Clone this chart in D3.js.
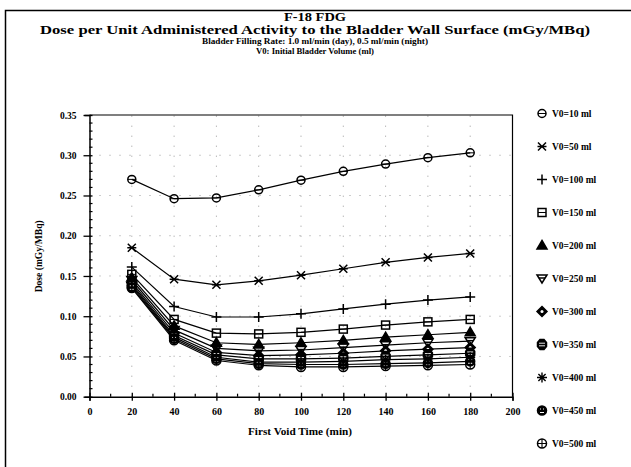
<!DOCTYPE html>
<html><head><meta charset="utf-8">
<script src="https://cdn.jsdelivr.net/npm/d3@7"></script>
<style>body{margin:0;background:#fff}svg{display:block}text{font-family:"Liberation Serif","DejaVu Serif",serif;font-weight:bold;fill:#000}</style>
</head><body><svg id="c" width="631" height="467"></svg>
<script>
const times = [20, 40, 60, 80, 100, 120, 140, 160, 180];
const seriesNames = ["V0=10 ml","V0=50 ml","V0=100 ml","V0=150 ml","V0=200 ml","V0=250 ml","V0=300 ml","V0=350 ml","V0=400 ml","V0=450 ml","V0=500 ml"];
const v10  = [0.270,0.246,0.247,0.257,0.269,0.280,0.289,0.297,0.303];
const v50  = [0.185,0.146,0.139,0.144,0.151,0.159,0.167,0.173,0.178];
const v100 = [0.161,0.112,0.099,0.099,0.103,0.109,0.115,0.120,0.124];
const v150 = [0.152,0.096,0.079,0.078,0.080,0.084,0.089,0.093,0.096];
const v200 = [0.148,0.088,0.067,0.065,0.067,0.070,0.074,0.077,0.080];
const v250 = [0.145,0.083,0.060,0.057,0.058,0.061,0.064,0.067,0.069];
const v300 = [0.142,0.079,0.055,0.051,0.052,0.054,0.057,0.059,0.061];
const v350 = [0.140,0.076,0.052,0.047,0.047,0.048,0.050,0.052,0.054];
const v400 = [0.138,0.074,0.049,0.043,0.043,0.044,0.046,0.047,0.049];
const v450 = [0.136,0.072,0.047,0.041,0.040,0.040,0.041,0.042,0.044];
const v500 = [0.135,0.070,0.045,0.039,0.037,0.037,0.038,0.039,0.040];
const xTicks = [0,20,40,60,80,100,120,140,160,180,200];
const yTicks = [0,0.05,0.10,0.15,0.20,0.25,0.30,0.35];
const titleLines = ["F-18 FDG","Dose per Unit Administered Activity to the Bladder Wall Surface (mGy/MBq)","Bladder Filling Rate: 1.0 ml/min (day), 0.5 ml/min (night)","V0: Initial Bladder Volume (ml)"];

const allSeries = [v10,v50,v100,v150,v200,v250,v300,v350,v400,v450,v500];
const svg = d3.select("#c");
// outer frame
svg.append("path").attr("d","M5.5,480 L5.5,10.5 L640,10.5").attr("fill","none").attr("stroke","#000").attr("stroke-width",1.5);

// titles
svg.append("text").attr("x",315).attr("y",21).attr("text-anchor","middle").attr("font-size",13)
  .attr("textLength",62).attr("lengthAdjust","spacingAndGlyphs").text(titleLines[0]);
svg.append("text").attr("x",315).attr("y",34).attr("text-anchor","middle").attr("font-size",12.5)
  .attr("textLength",550).attr("lengthAdjust","spacingAndGlyphs").text(titleLines[1]);
svg.append("text").attr("x",315).attr("y",44).attr("text-anchor","middle").attr("font-size",9)
  .attr("textLength",226).attr("lengthAdjust","spacingAndGlyphs").text(titleLines[2]);
svg.append("text").attr("x",315).attr("y",53.5).attr("text-anchor","middle").attr("font-size",9)
  .attr("textLength",118).attr("lengthAdjust","spacingAndGlyphs").text(titleLines[3]);

const L=89.5, R=512.5, T=115, B=396.7;
const x = d3.scaleLinear().domain([0,200]).range([L,R]);
const y = d3.scaleLinear().domain([0,0.35]).range([B,T]);

// grid dotted
const grid = svg.append("g").attr("stroke","#999").attr("stroke-width",1).attr("stroke-dasharray","1,9");
xTicks.slice(1,-1).forEach(t=>grid.append("line").attr("x1",x(t)).attr("x2",x(t)).attr("y1",B).attr("y2",T));
yTicks.slice(1,-1).forEach(t=>grid.append("line").attr("x1",L).attr("x2",R).attr("y1",y(t)).attr("y2",y(t)));

// frame top & right
svg.append("path").attr("d",`M${L},${T} L${R},${T} L${R},${B}`).attr("fill","none").attr("stroke","#000").attr("stroke-width",1.2);

// axes
const xAxis = d3.axisBottom(x).tickValues(xTicks).tickSize(4).tickFormat(d3.format("d"));
const gx = svg.append("g").attr("transform",`translate(0,${B})`).call(xAxis);
gx.select(".domain").attr("stroke-width",1.5);
gx.selectAll(".tick line").attr("y1",-4).attr("stroke-width",1.3);
gx.selectAll(".tick text").attr("font-size",10).attr("font-family","Liberation Serif").attr("font-weight","bold").attr("y",11).attr("dy","0.71em");
const xMinor = d3.range(10,200,20);
gx.selectAll(".minor").data(xMinor).enter().append("line").attr("x1",d=>x(d)).attr("x2",d=>x(d)).attr("y1",0).attr("y2",-3).attr("stroke","#000").attr("stroke-width",1.2);

const yAxis = d3.axisLeft(y).tickValues(yTicks).tickSize(5).tickFormat(d3.format(".2f"));
const gy = svg.append("g").attr("transform",`translate(${L},0)`).call(yAxis);
gy.select(".domain").attr("stroke-width",1.5);
gy.selectAll(".tick line").attr("x2",-6).attr("x1",3).attr("stroke-width",1.3);
gy.selectAll(".tick text").attr("font-size",9.5).attr("font-family","Liberation Serif").attr("font-weight","bold").attr("x",-13);
const yMinor = d3.range(0.01,0.35,0.01).filter(v=>Math.abs(v/0.05-Math.round(v/0.05))>0.01);
gy.selectAll(".minor").data(yMinor).enter().append("line").attr("x1",0).attr("x2",3).attr("y1",d=>y(d)).attr("y2",d=>y(d)).attr("stroke","#000").attr("stroke-width",1.2);

svg.append("text").attr("transform",`translate(42,${(T+B)/2+0.5}) rotate(-90)`).attr("text-anchor","middle").attr("font-size",9.5)
  .attr("textLength",72).attr("lengthAdjust","spacingAndGlyphs").text("Dose (mGy/MBq)");
svg.append("text").attr("x",300).attr("y",435).attr("text-anchor","middle").attr("font-size",10)
  .attr("textLength",104).attr("lengthAdjust","spacingAndGlyphs").text("First Void Time (min)");

// marker drawers
function marker(g,i){
  const s=g.append("g").attr("stroke","#000").attr("stroke-width",1.5).attr("fill","none");
  switch(i){
    case 0: s.append("circle").attr("r",4); s.append("line").attr("x1",-4).attr("x2",4).attr("stroke-width",1); break;
    case 1: s.append("path").attr("d","M-4,-4L4,4M-4,4L4,-4M-4.5,0L4.5,0"); break;
    case 2: s.append("path").attr("d","M-5,0L5,0M0,-5L0,5"); break;
    case 3: s.append("rect").attr("x",-4).attr("y",-4).attr("width",8).attr("height",8); s.append("line").attr("x1",-4).attr("x2",4).attr("stroke-width",1); break;
    case 4: s.append("path").attr("d","M0,-5L5,3.5L-5,3.5Z").attr("fill","#000"); break;
    case 5: s.append("path").attr("d","M-5,-3.5L5,-3.5L0,4.5Z"); s.append("line").attr("x1",-3).attr("x2",3).attr("y1",-0.5).attr("y2",-0.5); break;
    case 6: s.append("path").attr("d","M0,-5L5,0L0,5L-5,0Z").attr("fill","#000"); s.append("circle").attr("r",1.5).attr("fill","#fff").attr("stroke","none"); break;
    case 7: s.append("path").attr("d","M-2,-5L2,-5L4.5,-2L4.5,2L2,5L-2,5L-4.5,2L-4.5,-2Z").attr("fill","#000");
            s.append("path").attr("d","M-3,-1.3L3,-1.3M-3,1.3L3,1.3").attr("stroke","#fff").attr("stroke-width",0.9); break;
    case 8: s.append("path").attr("d","M-5,0L5,0M0,-5L0,5M-3.6,-3.6L3.6,3.6M-3.6,3.6L3.6,-3.6").attr("stroke-width",1.4); break;
    case 9: s.append("circle").attr("r",4.5).attr("fill","#000");
            s.append("path").attr("d","M-2,-1.5L-1,-1.5M1,-1.5L2,-1.5M-2,2L2,2").attr("stroke","#fff").attr("stroke-width",1); break;
    case 10: s.append("circle").attr("r",4.5); s.append("path").attr("d","M-4.5,0L4.5,0M0,-4.5L0,4.5").attr("stroke-width",1.1); break;
  }
}

const line = d3.line().x((d,i)=>x(times[i])).y(d=>y(d));
allSeries.forEach((vals,si)=>{
  svg.append("path").datum(vals).attr("d",line).attr("fill","none").attr("stroke","#000").attr("stroke-width",1.2);
});
allSeries.forEach((vals,si)=>{
  vals.forEach((v,i)=>{
    const g=svg.append("g").attr("transform",`translate(${x(times[i])},${y(v)})`);
    marker(g,si);
  });
});

// legend
const legY = d3.scaleLinear().domain([0,seriesNames.length-1]).range([113.5,443.5]);
seriesNames.forEach((n,i)=>{
  const g=svg.append("g").attr("transform",`translate(542,${legY(i)})`);
  marker(g,i);
  svg.append("text").attr("x",552).attr("y",legY(i)).attr("dy","0.35em").attr("font-size",9.5).text(n);
});
</script></body></html>
